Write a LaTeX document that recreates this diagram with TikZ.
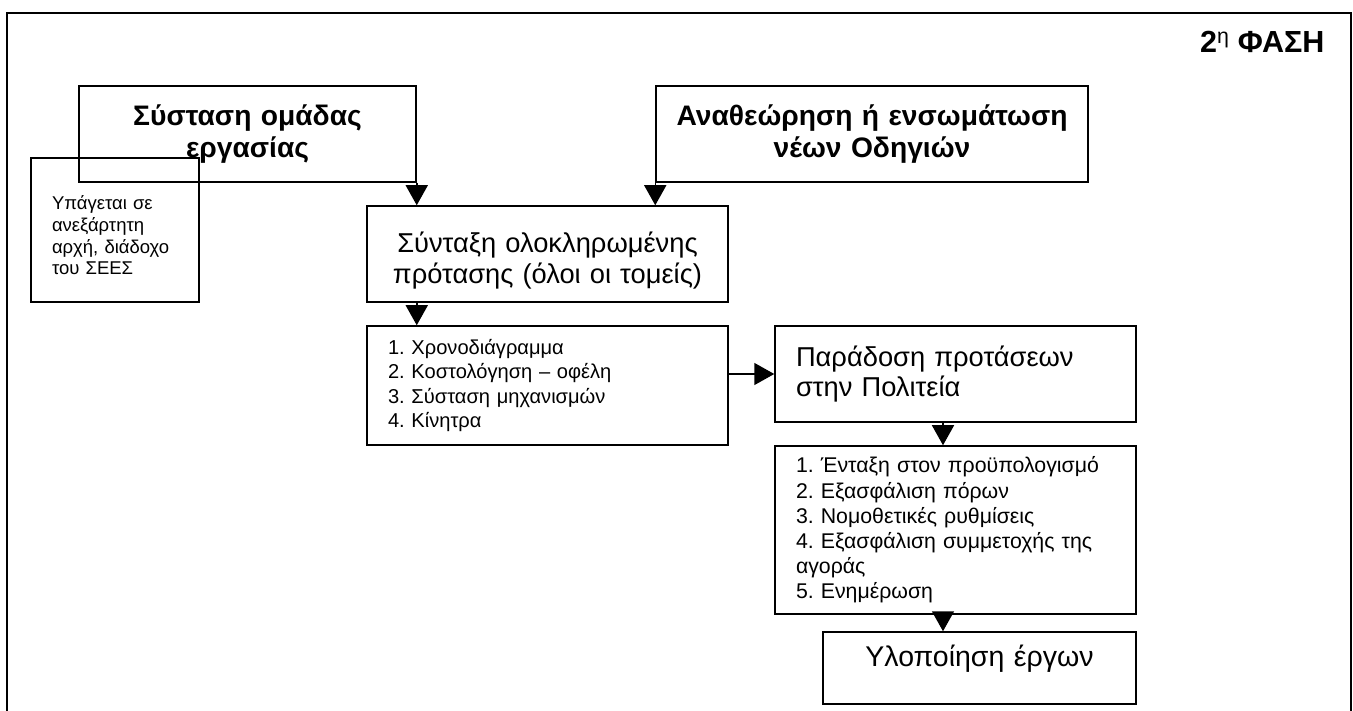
\documentclass[tikz,border=0pt]{standalone}
\usepackage{fontspec}
\setmainfont{Liberation Sans}
\usetikzlibrary{arrows.meta}
\begin{document}
\frenchspacing
\begin{tikzpicture}[x=1pt,y=-1pt,
  box/.style={draw, line width=1.5pt, rectangle, inner ysep=0pt, inner xsep=21pt},
  arr/.style={line width=1.5pt, -{Triangle[length=20pt,width=22pt]}},
  bigb/.style={font=\fontsize{28.2}{31.5}\selectfont\bfseries, align=center},
  big/.style={font=\fontsize{27.3}{30.5}\selectfont},
  small/.style={font=\fontsize{18.5}{21.8}\selectfont, align=left},
  list/.style={font=\fontsize{20.1}{24.2}\selectfont, align=left},
  listb/.style={font=\fontsize{21.3}{25.2}\selectfont, align=left},
]
\useasboundingbox (0,0) rectangle (1353,711);
\draw[line width=1.5pt] (7,711) -- (7,13) -- (1351,13) -- (1351,711);

\node[anchor=east, font=\fontsize{30.5}{34}\selectfont\bfseries] (phase) at (1328,42)
  {2\textsuperscript{\normalfont η} ΦΑΣΗ};

\node[box, bigb, text width=295pt, minimum height=96pt] (b1) at (247.5,134)
  {Σύσταση ομάδας\\εργασίας};
\node[box, small, text width=126pt, minimum height=144pt, text depth=55pt] (sub) at (115,230)
  {Υπάγεται σε\\ανεξάρτητη\\αρχή, διάδοχο\\του ΣΕΕΣ};
\node[box, bigb, inner xsep=4pt, text width=424pt, minimum height=96pt] (ana) at (872,134)
  {Αναθεώρηση ή ενσωμάτωση\\νέων Οδηγιών};
\node[box, big, align=center, text width=319pt, minimum height=96pt, text depth=23pt] (synt) at (547.5,254)
  {Σύνταξη ολοκληρωμένης\\πρότασης (όλοι οι τομείς)};
\node[box, list, text width=319pt, minimum height=119pt] (list1) at (547.5,385.5)
  {1. Χρονοδιάγραμμα\\2. Κοστολόγηση – οφέλη\\3. Σύσταση μηχανισμών\\4. Κίνητρα};
\node[box, big, align=left, text width=319pt, minimum height=96pt] (par) at (955.5,374)
  {Παράδοση προτάσεων\\στην Πολιτεία};
\node[box, listb, text width=319pt, minimum height=168pt] (list2) at (955.5,530)
  {1. Ένταξη στον προϋπολογισμό\\2. Εξασφάλιση πόρων\\3. Νομοθετικές ρυθμίσεις\\4. Εξασφάλιση συμμετοχής της\\αγοράς\\5. Ενημέρωση};
\node[box, font=\fontsize{28.5}{32}\selectfont, align=center, text width=271pt, minimum height=72pt, text depth=25pt] (yl) at (979.5,668)
  {Υλοποίηση έργων};

\coordinate (ax) at (943,0);
\draw[arr] (b1.south east) -- (b1.south east |- synt.north);
\draw[arr] (ana.south west) -- (ana.south west |- synt.north);
\draw[arr] (synt.south -| b1.east) -- (list1.north -| b1.east);
\draw[arr] (list1.east |- par.west) -- (par.west);
\draw[arr] (par.south -| ax) -- (list2.north -| ax);
\draw[arr] (list2.south -| ax) -- (yl.north -| ax);
\end{tikzpicture}
\end{document}
